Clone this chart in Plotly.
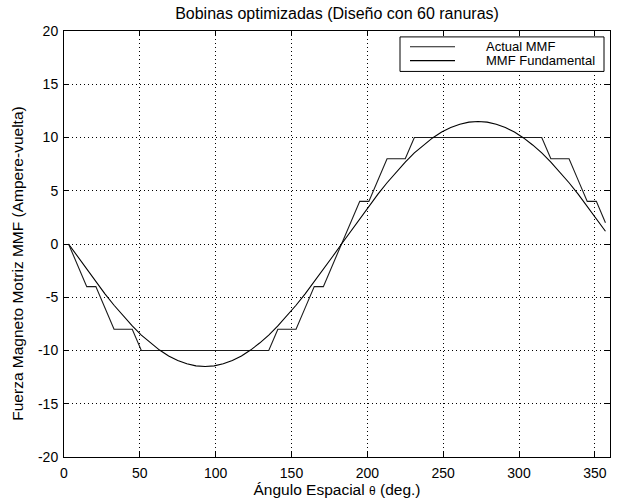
import plotly.graph_objects as go

# Slot-centre angles (deg) and the MMF sampled at each of the 60 slots
theta = [3 + 6 * k for k in range(60)]
actual_mmf = [
    0, -2, -4, -4, -6, -8, -8, -8, -10, -10,
    -10, -10, -10, -10, -10, -10, -10, -10, -10, -10,
    -10, -10, -10, -8, -8, -8, -6, -4, -4, -2,
    0, 2, 4, 4, 6, 8, 8, 8, 10, 10,
    10, 10, 10, 10, 10, 10, 10, 10, 10, 10,
    10, 10, 10, 8, 8, 8, 6, 4, 4, 2,
]
fundamental_mmf = [
    0.00, -1.20, -2.39, -3.55, -4.68, -5.75, -6.76, -7.69, -8.55, -9.30,
    -9.96, -10.51, -10.94, -11.25, -11.44, -11.50, -11.44, -11.25, -10.94, -10.51,
    -9.96, -9.30, -8.55, -7.69, -6.76, -5.75, -4.68, -3.55, -2.39, -1.20,
    0.00, 1.20, 2.39, 3.55, 4.68, 5.75, 6.76, 7.69, 8.55, 9.30,
    9.96, 10.51, 10.94, 11.25, 11.44, 11.50, 11.44, 11.25, 10.94, 10.51,
    9.96, 9.30, 8.55, 7.69, 6.76, 5.75, 4.68, 3.55, 2.39, 1.20,
]

x_ticks = [0, 50, 100, 150, 200, 250, 300, 350]
y_ticks = [-20, -15, -10, -5, 0, 5, 10, 15, 20]
y_tick_text = [str(v) for v in y_ticks]

series_names = ["Actual MMF", "MMF Fundamental"]
series_colors = ["#1a1a1a", "#000000"]

FONT = "Liberation Sans, Arial, sans-serif"

# Axes rectangle in pixels
W, H = 624, 504
L, R, T, B = 64, 610, 31, 463


def px(p):
    return (p - L) / (R - L)


def py(q):
    return (B - q) / (B - T)


fig = go.Figure()
fig.add_trace(go.Scatter(x=theta, y=actual_mmf, mode="lines", name=series_names[0],
                         line=dict(color=series_colors[0], width=1.1), showlegend=False))
fig.add_trace(go.Scatter(x=theta, y=fundamental_mmf, mode="lines", name=series_names[1],
                         line=dict(color=series_colors[1], width=1.1), showlegend=False))

axis_common = dict(
    showline=True, linecolor="black", linewidth=1, mirror="ticks",
    ticks="inside", ticklen=5, tickcolor="black",
    showgrid=True, gridcolor="black", gridwidth=1, griddash="1px,3px",
    zeroline=False, tickfont=dict(family=FONT, size=14, color="black"),
)

fig.update_xaxes(range=[0, 360], tickvals=x_ticks, **axis_common, ticklabelstandoff=3,
                 title=dict(text="Ángulo Espacial <span style='font-size:12px'>θ</span> (deg.)",
                            font=dict(family=FONT, size=15.5, color="black"), standoff=0))
fig.update_yaxes(range=[-20, 20], tickvals=y_ticks, ticktext=y_tick_text, **axis_common,
                 ticklabelstandoff=2)

# Legend box in the top-right corner of the axes
shapes = [
    dict(type="rect", xref="paper", yref="paper", x0=px(400), x1=px(604), y0=py(72), y1=py(37),
         line=dict(color="black", width=1), fillcolor="white", layer="above"),
    dict(type="line", xref="paper", yref="paper", x0=px(410), x1=px(455), y0=py(47), y1=py(47),
         line=dict(color=series_colors[0], width=1.1), layer="above"),
    dict(type="line", xref="paper", yref="paper", x0=px(410), x1=px(455), y0=py(61), y1=py(61),
         line=dict(color=series_colors[1], width=1.1), layer="above"),
]
annotations = [
    dict(xref="paper", yref="paper", x=px(484), y=py(47), text=series_names[0], showarrow=False,
         xanchor="left", yanchor="middle", font=dict(family=FONT, size=13, color="black")),
    dict(xref="paper", yref="paper", x=px(484), y=py(61), text=series_names[1], showarrow=False,
         xanchor="left", yanchor="middle", font=dict(family=FONT, size=13, color="black")),
    # vertical axis title
    dict(xref="paper", yref="paper", x=px(18), y=py(267), text="Fuerza Magneto Motriz MMF (Ampere-vuelta)",
         textangle=-90, showarrow=False, xanchor="center", yanchor="middle",
         font=dict(family=FONT, size=15.5, color="black")),
]

fig.update_layout(
    width=W, height=H,
    margin=dict(l=L, r=W - R, t=T, b=H - B),
    paper_bgcolor="white", plot_bgcolor="white",
    title=dict(text="Bobinas optimizadas (Diseño con 60 ranuras)", x=px(337), xref="paper",
               xanchor="center", y=1 - 13 / H, yref="container", yanchor="middle",
               font=dict(family=FONT, size=16, color="black")),
    shapes=shapes, annotations=annotations,
)

fig.write_html("out.html")
